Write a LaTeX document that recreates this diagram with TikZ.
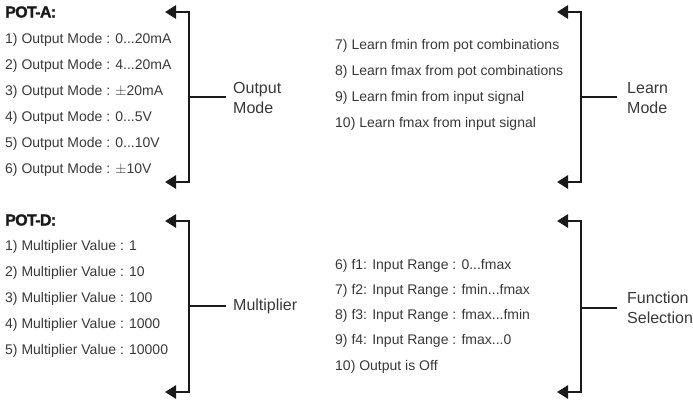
\documentclass[tikz,border=0pt]{standalone}
\usepackage{fontspec}
\setmainfont{Liberation Sans}
\newfontfamily\headfont{Liberation Sans Bold}[FakeBold=1.2,LetterSpace=-4]
\usetikzlibrary{arrows.meta}
\definecolor{txt}{HTML}{383838}
\definecolor{ln}{HTML}{1A1A1A}
\begin{document}
\begin{tikzpicture}[x=1pt,y=-1pt,
  item/.style={anchor=west,inner sep=0pt,text=txt,font=\fontsize{14}{16}\selectfont},
  head/.style={anchor=west,inner sep=0pt,text=ln,font=\fontsize{16}{18}\headfont},
  lbl/.style={anchor=west,inner sep=0pt,text=txt,align=left,font=\fontsize{16}{20}\selectfont},
  brk/.style={draw=ln,line width=2.8pt,-{Triangle[length=11pt,width=13pt]}},
  stub/.style={draw=ln,line width=2.8pt}]
\useasboundingbox (0,0) rectangle (693,405);
% POT-A
\node[head] (pa) at (5,12) {POT-A:};
\node[item] (a1) at (5,40) {1) Output Mode : 0...20mA};
\node[item] (a2) at (5,66) {2) Output Mode : 4...20mA};
\node[item] (a3) at (5,92) {3) Output Mode : $\pm$20mA};
\node[item] (a4) at (5,118) {4) Output Mode : 0...5V};
\node[item] (a5) at (5,144) {5) Output Mode : 0...10V};
\node[item] (a6) at (5,170) {6) Output Mode : $\pm$10V};
\coordinate (at) at (165,12);
\coordinate (ab) at (165,182);
\coordinate (ac) at (189,97);
\coordinate (ae) at (226,97);
\draw[brk] (ac) |- (at);
\draw[brk] (ac) |- (ab);
\draw[stub] (ac) -- (ae);
\node[lbl] (la) at (233,98) {Output\\Mode};
% Learn
\node[item] (l7) at (335,46) {7) Learn fmin from pot combinations};
\node[item] (l8) at (335,72) {8) Learn fmax from pot combinations};
\node[item] (l9) at (335,98) {9) Learn fmin from input signal};
\node[item] (l10) at (335,124) {10) Learn fmax from input signal};
\coordinate (bt) at (557,12);
\coordinate (bb) at (557,182);
\coordinate (bc) at (581,97);
\coordinate (be) at (617,97);
\draw[brk] (bc) |- (bt);
\draw[brk] (bc) |- (bb);
\draw[stub] (bc) -- (be);
\node[lbl] (lb) at (627,98) {Learn\\Mode};
% POT-D
\node[head] (pd) at (5,220) {POT-D:};
\node[item] (d1) at (5,247) {1) Multiplier Value : 1};
\node[item] (d2) at (5,273) {2) Multiplier Value : 10};
\node[item] (d3) at (5,299) {3) Multiplier Value : 100};
\node[item] (d4) at (5,325) {4) Multiplier Value : 1000};
\node[item] (d5) at (5,351) {5) Multiplier Value : 10000};
\coordinate (ct) at (165,221);
\coordinate (cb) at (165,392);
\coordinate (cc) at (189,306);
\coordinate (ce) at (226,306);
\draw[brk] (cc) |- (ct);
\draw[brk] (cc) |- (cb);
\draw[stub] (cc) -- (ce);
\node[lbl] (lc) at (233,306) {Multiplier};
% Function
\node[item] (f6) at (335,266) {6) f1: Input Range : 0...fmax};
\node[item] (f7) at (335,291) {7) f2: Input Range : fmin...fmax};
\node[item] (f8) at (335,316) {8) f3: Input Range : fmax...fmin};
\node[item] (f9) at (335,341) {9) f4: Input Range : fmax...0};
\node[item] (f10) at (335,367) {10) Output is Off};
\coordinate (dt) at (557,221);
\coordinate (db) at (557,392);
\coordinate (dc) at (581,308);
\coordinate (de) at (617,308);
\draw[brk] (dc) |- (dt);
\draw[brk] (dc) |- (db);
\draw[stub] (dc) -- (de);
\node[lbl] (ld) at (627,308) {Function\\Selection};
\end{tikzpicture}
\end{document}
